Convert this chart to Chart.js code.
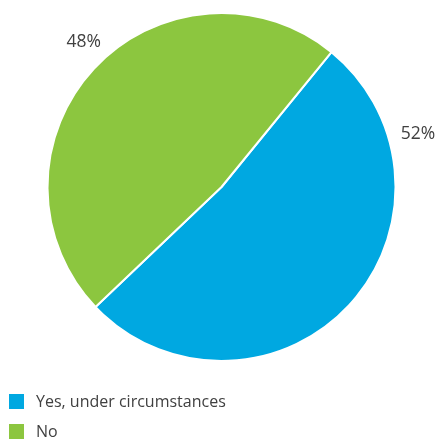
<!DOCTYPE html>
<html>
<head>
<meta charset="utf-8">
<script src="https://cdn.jsdelivr.net/npm/chart.js@4/dist/chart.umd.min.js"></script>
<style>
  body { margin: 0; background: #fff; font-family: "Open Sans", sans-serif; overflow: hidden; }
  #wrap { position: relative; width: 438px; height: 439px; }
  #myChart { display: block; }
  #legend { position: absolute; left: 9px; top: 386px; }
  .item { display: flex; align-items: center; height: 30px; color: #404040; font-size: 16px; }
  .box { width: 15px; height: 15px; margin-right: 12px; }
</style>
</head>
<body>
<div id="wrap">
  <canvas id="myChart" width="438" height="439"></canvas>
  <div id="legend"></div>
</div>
<script>
var labels = ['Yes, under circumstances', 'No'];
var values = [52, 48];
var colors = ['#00a8e1', '#8cc63f'];

// where the percent labels sit: angle from 12 o'clock (clockwise), distance as a factor of the radius
var labelAngle = [74.8, 316.5];
var labelDist = [1.17, 1.15];

var pctLabels = {
    id: 'pctLabels',
    afterDatasetsDraw: function(chart) {
        var ctx = chart.ctx;
        var arcs = chart.getDatasetMeta(0).data;
        ctx.save();
        ctx.font = '17.5px "Open Sans", sans-serif';
        ctx.fillStyle = '#404040';
        ctx.textAlign = 'center';
        ctx.textBaseline = 'middle';
        arcs.forEach(function(arc, i) {
            var a = labelAngle[i] * Math.PI / 180;
            var r = arc.outerRadius * labelDist[i];
            ctx.fillText(values[i] + '%', arc.x + Math.sin(a) * r, arc.y - Math.cos(a) * r);
        });
        ctx.restore();
    }
};

var ctx = document.getElementById('myChart').getContext('2d');
var myChart = new Chart(ctx, {
    type: 'pie',
    data: {
        labels: labels,
        datasets: [{
            data: values,
            backgroundColor: colors,
            borderColor: '#ffffff',
            borderWidth: 2,
            hoverOffset: 0
        }]
    },
    options: {
        responsive: false,
        animation: false,
        rotation: 39.2,
        layout: { padding: { left: 46, right: 41, top: 12, bottom: 77 } },
        plugins: {
            legend: { display: false },
            tooltip: { enabled: false }
        }
    },
    plugins: [pctLabels]
});

var legend = document.getElementById('legend');
labels.forEach(function(l, i) {
    var item = document.createElement('div');
    item.className = 'item';
    item.innerHTML = '<span class="box" style="background:' + colors[i] + '"></span><span>' + l + '</span>';
    legend.appendChild(item);
});
</script>
</body>
</html>
